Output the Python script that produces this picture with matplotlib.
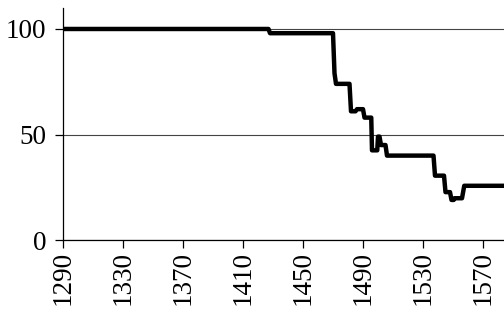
import matplotlib
matplotlib.use("Agg")
import matplotlib.pyplot as plt

years = [1290, 1427, 1428, 1470, 1471, 1472, 1481, 1482, 1485, 1486, 1490, 1491,
         1495.5, 1496, 1499.5, 1500, 1501, 1502, 1505, 1506, 1537, 1538,
         1544, 1545, 1548, 1549, 1550.5, 1551, 1556, 1557.5, 1590]
values = [100, 100, 98, 98, 79, 74, 74, 61, 61, 62, 62, 58,
          58, 42.5, 42.5, 49, 49, 45, 45, 40, 40, 30.5,
          30.5, 22.7, 22.7, 19, 19, 19.8, 19.8, 25.7, 25.7]
x_ticks = [1290, 1330, 1370, 1410, 1450, 1490, 1530, 1570]
y_ticks = [0, 50, 100]

plt.rcParams['font.family'] = ['Liberation Serif', 'DejaVu Serif']

fig = plt.figure(figsize=(5.04, 3.15), dpi=100)
ax = fig.add_axes([0.125, 0.238, 0.875, 0.737])

ax.plot(years, values, color='black', lw=3.2, solid_joinstyle='round', zorder=3)

ax.set_xlim(1290, 1584)
ax.set_ylim(0, 110)
ax.set_xticks(x_ticks)
ax.set_xticklabels([str(t) for t in x_ticks], rotation=90)
ax.set_yticks(y_ticks)
ax.yaxis.grid(True, color='#444444', lw=0.8)
ax.set_axisbelow(True)
for s in ['top', 'right']:
    ax.spines[s].set_visible(False)
for s in ['left', 'bottom']:
    ax.spines[s].set_linewidth(0.9)
ax.tick_params(axis='both', labelsize=19.5, length=6, width=0.9, direction='out')
ax.tick_params(axis='x', pad=2)
ax.tick_params(axis='y', pad=6)

fig.savefig("out.png", dpi=100)
